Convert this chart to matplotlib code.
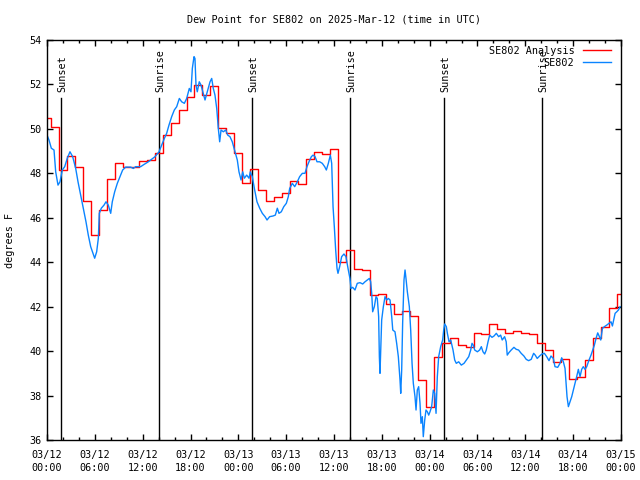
import matplotlib
matplotlib.use("Agg")
import matplotlib.pyplot as plt
from matplotlib.ticker import MultipleLocator

plt.rcParams['font.family'] = ['DejaVu Sans Mono']

# ---- data ----
title = "Dew Point for SE802 on 2025-Mar-12 (time in UTC)"
ylabel = "degrees F"

# hourly analysis values (hours since 03/12 00:00 UTC)
analysis_hours = list(range(0, 73))
analysis_vals = [50.48, 50.07, 48.15, 48.8, 48.27, 46.74, 45.22, 46.33, 47.73, 48.48,
                 48.3, 48.3, 48.55, 48.6, 48.9, 49.71, 50.25, 50.85, 51.45, 51.97,
                 51.52, 51.95, 50.02, 49.83, 48.93, 47.58, 48.18, 47.25, 46.75, 46.95,
                 47.13, 47.67, 47.53, 48.63, 48.97, 48.87, 49.08, 44.02, 44.55, 43.68,
                 43.65, 42.52, 42.57, 42.1, 41.65, 41.8, 41.6, 38.7, 37.5, 39.75,
                 40.38, 40.6, 40.27, 40.17, 40.83, 40.75, 41.2, 40.98, 40.8, 40.92,
                 40.8, 40.77, 40.38, 40.07, 39.5, 39.63, 38.74, 38.82, 39.6, 40.57,
                 41.1, 41.92, 42.55]

obs_hours = [0.0, 0.25, 0.54, 0.88, 1.09, 1.38, 1.63, 1.92, 2.22, 2.55, 2.88, 3.22, 3.6, 3.89,
             4.22, 4.55, 4.89, 5.18, 5.48, 5.77, 5.98, 6.23, 6.44, 6.56, 6.81, 7.15, 7.4, 7.69,
             7.99, 8.19, 8.49, 8.82, 9.16, 9.49, 9.87, 10.5, 10.83, 11.12, 11.75, 12.17, 12.71,
             13.55, 14.05, 14.38, 14.72, 15.01, 15.3, 15.64, 15.97, 16.27, 16.6, 16.89, 17.23,
             17.52, 17.85, 18.06, 18.23, 18.44, 18.56, 18.69, 18.85, 19.1, 19.32, 19.6, 19.82,
             20.1, 20.45, 20.66, 20.86, 21.07, 21.29, 21.49, 21.66, 21.83, 22.12, 22.42, 22.67,
             22.95, 23.24, 23.58, 23.87, 24.08, 24.34, 24.55, 24.75, 25.05, 25.34, 25.5, 25.75,
             26.05, 26.34, 26.68, 27.01, 27.35, 27.6, 27.93, 28.35, 28.64, 28.89, 29.1, 29.39,
             29.7, 30.02, 30.27, 30.44, 30.77, 31.07, 31.4, 31.69, 32.03, 32.36, 32.61, 32.86,
             33.16, 33.37, 33.62, 33.87, 34.2, 34.53, 34.83, 35.04, 35.29, 35.54, 35.71, 35.88,
             36.04, 36.21, 36.38, 36.5, 36.71, 36.96, 37.25, 37.5, 37.76, 38.0, 38.13, 38.34,
             38.63, 38.92, 39.26, 39.6, 39.89, 40.18, 40.43, 40.6, 40.73, 40.85, 41.06, 41.27,
             41.43, 41.6, 41.69, 41.77, 41.86, 41.98, 42.19, 42.4, 42.61, 42.82, 43.03, 43.24,
             43.37, 43.65, 43.86, 44.07, 44.28, 44.37, 44.49, 44.61, 44.78, 44.91, 45.03, 45.2,
             45.45, 45.62, 45.79, 45.95, 46.16, 46.29, 46.45, 46.62, 46.79, 46.91, 47.08, 47.2,
             47.38, 47.54, 47.71, 47.88, 48.04, 48.25, 48.46, 48.63, 48.8, 48.96, 49.13, 49.38,
             49.63, 49.76, 49.88, 50.09, 50.22, 50.43, 50.64, 50.93, 51.14, 51.34, 51.64, 51.97,
             52.31, 52.6, 52.9, 53.15, 53.31, 53.47, 53.65, 53.98, 54.27, 54.48, 54.69, 54.9,
             55.1, 55.32, 55.53, 55.82, 56.07, 56.36, 56.65, 56.9, 57.1, 57.4, 57.6, 57.73,
             57.94, 58.23, 58.57, 58.86, 59.15, 59.48, 59.82, 60.11, 60.41, 60.74, 61.04, 61.24,
             61.49, 61.79, 62.08, 62.39, 62.68, 62.97, 63.22, 63.51, 63.72, 64.06, 64.35, 64.56,
             64.77, 64.98, 65.11, 65.23, 65.4, 65.61, 65.82, 66.02, 66.23, 66.44, 66.65, 66.86,
             67.07, 67.27, 67.49, 67.7, 67.99, 68.24, 68.45, 68.66, 68.87, 69.08, 69.29, 69.46,
             69.67, 69.92, 70.21, 70.5, 70.75, 70.92, 71.1, 71.26, 71.47, 71.68, 71.89]
obs_vals = [49.72, 49.5, 49.13, 49.05, 48.07, 47.47, 47.62, 48.15, 48.3, 48.68, 48.97, 48.75,
            48.22, 47.62, 47.02, 46.43, 45.82, 45.22, 44.7, 44.4, 44.18, 44.47, 45.08, 46.2,
            46.43, 46.57, 46.72, 46.57, 46.2, 46.72, 47.17, 47.55, 47.85, 48.15, 48.28, 48.28,
            48.22, 48.3, 48.3, 48.4, 48.52, 48.75, 48.97, 49.27, 49.57, 49.8, 50.17, 50.55,
            50.85, 51.0, 51.37, 51.22, 51.15, 51.37, 51.82, 51.67, 52.72, 53.25, 53.17, 51.97,
            51.67, 52.12, 51.97, 51.6, 51.3, 51.67, 52.12, 52.27, 51.82, 51.52, 50.92, 50.02,
            49.42, 49.95, 49.87, 49.95, 49.72, 49.65, 49.42, 48.97, 48.6, 48.07, 47.7, 48.07,
            47.78, 47.92, 47.78, 48.07, 47.85, 47.25, 46.72, 46.43, 46.2, 46.05, 45.9, 46.05,
            46.08, 46.12, 46.43, 46.2, 46.27, 46.5, 46.65, 46.95, 47.32, 47.55, 47.4, 47.62,
            47.85, 48.0, 48.0, 48.3, 48.52, 48.75, 48.82, 48.75, 48.52, 48.52, 48.45, 48.3,
            48.15, 48.45, 48.82, 48.45, 46.5, 45.6, 44.55, 43.72, 43.5, 43.8, 44.25, 44.37,
            44.25, 43.72, 43.27, 42.82, 42.87, 42.75, 43.05, 43.08, 43.02, 43.12, 43.2, 43.27,
            43.12, 42.6, 41.77, 42.0, 42.45, 42.37, 41.55, 39.75, 39.0, 40.05, 41.4, 42.0,
            42.45, 42.3, 42.37, 42.3, 41.55, 40.95, 40.87, 40.35, 39.75, 38.7, 38.1, 39.15,
            41.25, 43.2, 43.65, 43.27, 42.67, 42.0, 40.95, 39.45, 38.55, 37.95, 37.35, 38.25,
            38.4, 37.65, 36.75, 37.05, 36.15, 36.9, 37.35, 37.27, 37.12, 37.27, 37.5, 38.25,
            38.1, 37.2, 38.85, 39.75, 40.2, 40.5, 40.95, 41.22, 41.1, 40.8, 40.42, 40.5, 40.05,
            39.6, 39.45, 39.52, 39.37, 39.45, 39.6, 39.75, 40.05, 40.35, 40.27, 40.05, 39.97,
            40.05, 40.2, 39.97, 39.87, 40.05, 40.42, 40.72, 40.62, 40.68, 40.8, 40.65, 40.72,
            40.5, 40.65, 40.42, 39.82, 39.93, 40.05, 40.17, 40.08, 40.05, 39.9, 39.78, 39.63,
            39.57, 39.63, 39.9, 39.82, 39.67, 39.78, 39.87, 39.9, 39.75, 39.57, 39.78, 39.67,
            39.3, 39.27, 39.45, 39.7, 39.52, 39.22, 38.55, 37.95, 37.5, 37.72, 37.95, 38.25,
            38.55, 38.85, 39.18, 38.85, 39.18, 39.3, 39.18, 39.3, 39.6, 39.82, 40.05, 40.27,
            40.57, 40.82, 40.65, 40.5, 41.02, 41.1, 41.17, 41.25, 41.32, 41.13, 41.43, 41.7,
            41.77, 41.85, 42.0]

sun_hours = [1.76, 14.05, 25.76, 38.0, 49.85, 62.1]
sun_labels = ["Sunset", "Sunrise", "Sunset", "Sunrise", "Sunset", "Sunrise"]

tick_hours = list(range(0, 73, 6))
tick_labels = ["03/12\n00:00", "03/12\n06:00", "03/12\n12:00", "03/12\n18:00",
               "03/13\n00:00", "03/13\n06:00", "03/13\n12:00", "03/13\n18:00",
               "03/14\n00:00", "03/14\n06:00", "03/14\n12:00", "03/14\n18:00",
               "03/15\n00:00"]

FS = 7.3

fig = plt.figure(figsize=(6.4, 4.8), dpi=100)
ax = fig.add_axes([47/640, 40/480, 574/640, 400/480])

for t, lab in zip(sun_hours, sun_labels):
    ax.plot([t, t], [0, 0.855], color='black', lw=1.0,
            transform=ax.get_xaxis_transform())
    ax.text(t + 0.15, 0.87, lab, rotation=90, ha='center', va='bottom',
            fontsize=FS, transform=ax.get_xaxis_transform())

ax.step(analysis_hours, analysis_vals, where='mid', color='#ff0000', lw=1.0,
        label='SE802 Analysis')
ax.plot(obs_hours, obs_vals, color='#0a84ff', lw=1.0, label='SE802')

ax.set_xlim(0, 72)
ax.set_ylim(36, 54)
ax.set_xticks(tick_hours)
ax.set_xticklabels(tick_labels, fontsize=FS, linespacing=1.3)
ax.xaxis.set_minor_locator(MultipleLocator(2))
ax.set_yticks(range(36, 55, 2))
ax.set_yticklabels([str(v) for v in range(36, 55, 2)], fontsize=FS)
ax.tick_params(which='both', direction='in', top=True, right=True, width=1.0)
ax.tick_params(which='major', length=4.5, pad=4)
ax.tick_params(axis='x', which='major', pad=7.5)
ax.tick_params(which='minor', length=2.5)
for s in ax.spines.values():
    s.set_linewidth(1.0)

ax.set_ylabel(ylabel, fontsize=FS, labelpad=10)
fig.text(334/640, 1 - 19/480, title, ha='center', va='center', fontsize=FS)

leg = ax.legend(loc='upper right', bbox_to_anchor=((611-47)/574, 0.985),
                frameon=False, fontsize=FS, markerfirst=False,
                handlelength=2.8, handletextpad=0.8, labelspacing=0.2,
                borderpad=0, borderaxespad=0)

fig.savefig("out.png", dpi=100)
